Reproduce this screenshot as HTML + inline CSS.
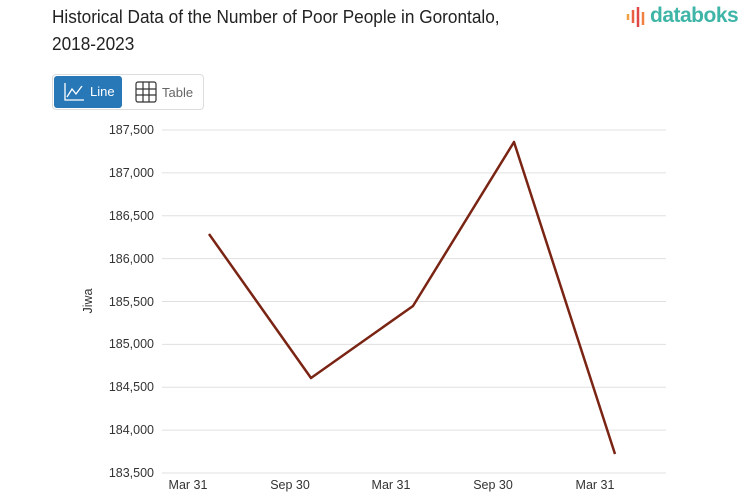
<!DOCTYPE html>
<html><head><style>
body{margin:0;width:753px;height:498px;background:#fff;font-family:"Liberation Sans",sans-serif;position:relative;overflow:hidden}
.t{position:absolute;left:52px;top:3px;font-size:18.5px;line-height:27px;color:#222;transform:scaleX(0.93);transform-origin:left}
.logo{position:absolute;left:650px;top:4px;font-size:21px;color:#3fb5a8;font-weight:bold;letter-spacing:-0.5px}
.btns{position:absolute;left:52px;top:74px;width:150px;height:34px;border:1px solid #ddd;border-radius:4px}
.b1{position:absolute;left:1px;top:1px;width:68px;height:32px;background:#2878b8;border-radius:3px;color:#fff;font-size:13px}
.b2{position:absolute;left:82px;top:1px;height:32px;color:#666;font-size:13px}
</style></head><body>
<div class="t">Historical Data of the Number of Poor People in Gorontalo,<br>2018-2023</div>
<svg style="position:absolute;left:626px;top:7px" width="22" height="22"><g stroke-width="2.5"><line x1="2" y1="7" x2="2" y2="13" stroke="#f0a040"/><line x1="7" y1="3" x2="7" y2="16" stroke="#e86040"/><line x1="12" y1="0" x2="12" y2="20" stroke="#e04848"/><line x1="17" y1="5" x2="17" y2="18" stroke="#f08040"/></g></svg>
<div class="logo">databoks</div>
<div class="btns"><div class="b1"><svg style="position:absolute;left:9px;top:6px" width="22" height="20" fill="none" stroke="#fff" stroke-width="1.3"><path d="M2 1V18H21"/><path d="M4 15L9 7L13 12L19 4"/></svg><span style="position:absolute;left:36px;top:8px">Line</span></div>
<div class="b2"><svg style="position:absolute;left:0;top:5px" width="22" height="22" fill="none" stroke="#333" stroke-width="1.2"><rect x="1" y="1" width="20" height="20" rx="2"/><path d="M1 8H21M1 14H21M8 1V21M14 1V21"/></svg><span style="position:absolute;left:27px;top:9px">Table</span></div></div>
<svg style="position:absolute;left:0;top:0" width="753" height="498" font-family="Liberation Sans,sans-serif" font-size="12.5" fill="#333">
<g stroke="#e0e0e0"><line x1="162" y1="130" x2="666" y2="130"/><line x1="162" y1="172.9" x2="666" y2="172.9"/><line x1="162" y1="215.8" x2="666" y2="215.8"/><line x1="162" y1="258.6" x2="666" y2="258.6"/><line x1="162" y1="301.5" x2="666" y2="301.5"/><line x1="162" y1="344.4" x2="666" y2="344.4"/><line x1="162" y1="387.3" x2="666" y2="387.3"/><line x1="162" y1="430.1" x2="666" y2="430.1"/><line x1="162" y1="473" x2="666" y2="473"/></g>
<g text-anchor="end" textLength="0"><text x="154" y="134">187,500</text><text x="154" y="177">187,000</text><text x="154" y="220">186,500</text><text x="154" y="263">186,000</text><text x="154" y="306">185,500</text><text x="154" y="348">185,000</text><text x="154" y="391">184,500</text><text x="154" y="434">184,000</text><text x="154" y="477">183,500</text></g>
<g text-anchor="middle"><text x="188" y="489">Mar 31</text><text x="290" y="489">Sep 30</text><text x="391" y="489">Mar 31</text><text x="493" y="489">Sep 30</text><text x="595" y="489">Mar 31</text></g>
<text transform="translate(92,301) rotate(-90)" text-anchor="middle">Jiwa</text>
<polyline points="209,234 311,378 413,306 514,142 615,454" fill="none" stroke="#7a2414" stroke-width="2.5" stroke-linejoin="round"/>
</svg>
</body></html>
